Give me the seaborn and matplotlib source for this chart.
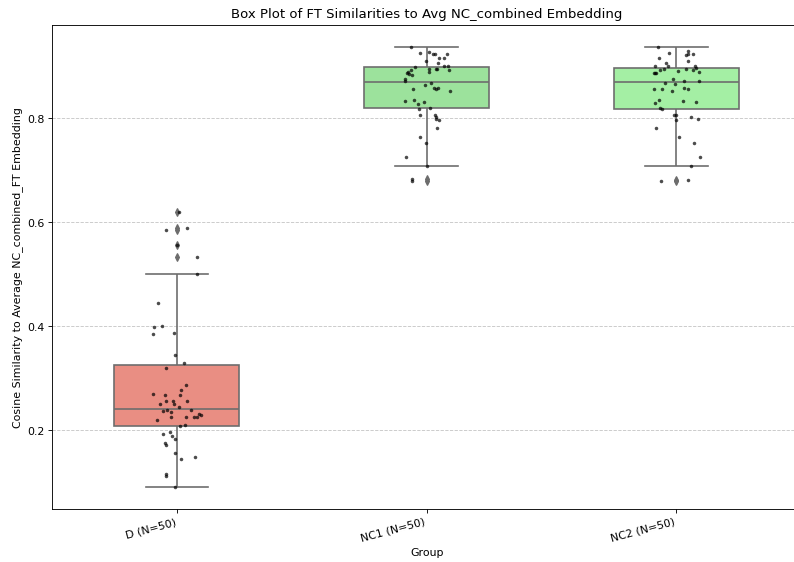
import numpy as np
import pandas as pd
import matplotlib
matplotlib.use("Agg")
import matplotlib.pyplot as plt
import seaborn as sns

# ---- data ----
groups = ["D", "NC1", "NC2"]

d_values = [0.620, 0.590, 0.586, 0.557, 0.533, 0.501, 0.444, 0.400, 0.399, 0.388,
            0.385, 0.345, 0.329, 0.319, 0.287, 0.278, 0.270, 0.267, 0.267, 0.257,
            0.257, 0.257, 0.251, 0.250, 0.244, 0.239, 0.239, 0.238, 0.235, 0.231,
            0.230, 0.225, 0.225, 0.225, 0.225, 0.220, 0.211, 0.208, 0.196, 0.193,
            0.190, 0.183, 0.176, 0.172, 0.157, 0.148, 0.144, 0.115, 0.112, 0.091]

nc1_values = [0.680, 0.683, 0.709, 0.726, 0.752, 0.765, 0.782, 0.797, 0.798, 0.803,
              0.806, 0.807, 0.819, 0.821, 0.828, 0.832, 0.833, 0.836, 0.853, 0.856,
              0.856, 0.858, 0.859, 0.865, 0.869, 0.873, 0.876, 0.883, 0.886, 0.887,
              0.890, 0.890, 0.893, 0.894, 0.895, 0.896, 0.896, 0.899, 0.901, 0.901,
              0.906, 0.910, 0.916, 0.917, 0.924, 0.924, 0.924, 0.925, 0.928, 0.938]

nc2_values = [0.680, 0.682, 0.709, 0.726, 0.752, 0.765, 0.782, 0.797, 0.798, 0.802,
              0.806, 0.806, 0.818, 0.821, 0.829, 0.832, 0.833, 0.835, 0.853, 0.856,
              0.856, 0.857, 0.858, 0.866, 0.868, 0.872, 0.873, 0.876, 0.887, 0.887,
              0.888, 0.890, 0.891, 0.893, 0.894, 0.895, 0.895, 0.897, 0.900, 0.900,
              0.901, 0.906, 0.911, 0.916, 0.923, 0.924, 0.924, 0.926, 0.929, 0.938]

box_colors = ["salmon", "lightgreen", "palegreen"]

title = "Box Plot of FT Similarities to Avg NC_combined Embedding"
xlabel = "Group"
ylabel = "Cosine Similarity to Average NC_combined_FT Embedding"

# ---- build table ----
all_values = [d_values, nc1_values, nc2_values]
labels = [f"{g} (N={len(v)})" for g, v in zip(groups, all_values)]
df = pd.DataFrame({
    "Group": np.repeat(labels, [len(v) for v in all_values]),
    "Similarity": np.concatenate(all_values),
})

DPI = 79.4
fig = plt.figure(figsize=(794.3 / DPI, 562.3 / DPI), dpi=DPI)
# axes run past the right edge of the picture, as in the (cropped) reference
ax = fig.add_axes([52 / 794, 53 / 562, 749 / 794, 484 / 562])
ax.set_clip_on(False)

sns.boxplot(data=df, x="Group", y="Similarity", hue="Group",
            palette=dict(zip(labels, box_colors)), width=0.5, legend=False,
            linewidth=1.5,
            flierprops=dict(marker="d", markersize=5,
                            markerfacecolor="#6d6d6d", markeredgecolor="#6d6d6d"),
            ax=ax)
np.random.seed(3)
sns.stripplot(data=df, x="Group", y="Similarity", color="black", size=3.2,
              alpha=0.7, jitter=True, ax=ax)

ax.set_xlim(-0.5, 2.5)
ax.set_title(title, fontsize=12)
ax.set_xlabel(xlabel)
ax.set_ylabel(ylabel)
plt.setp(ax.get_xticklabels(), rotation=15, ha="right")
ax.grid(axis="y", linestyle="--", alpha=0.7)
ax.spines["right"].set_visible(False)

fig.savefig("out.png", dpi=DPI)
